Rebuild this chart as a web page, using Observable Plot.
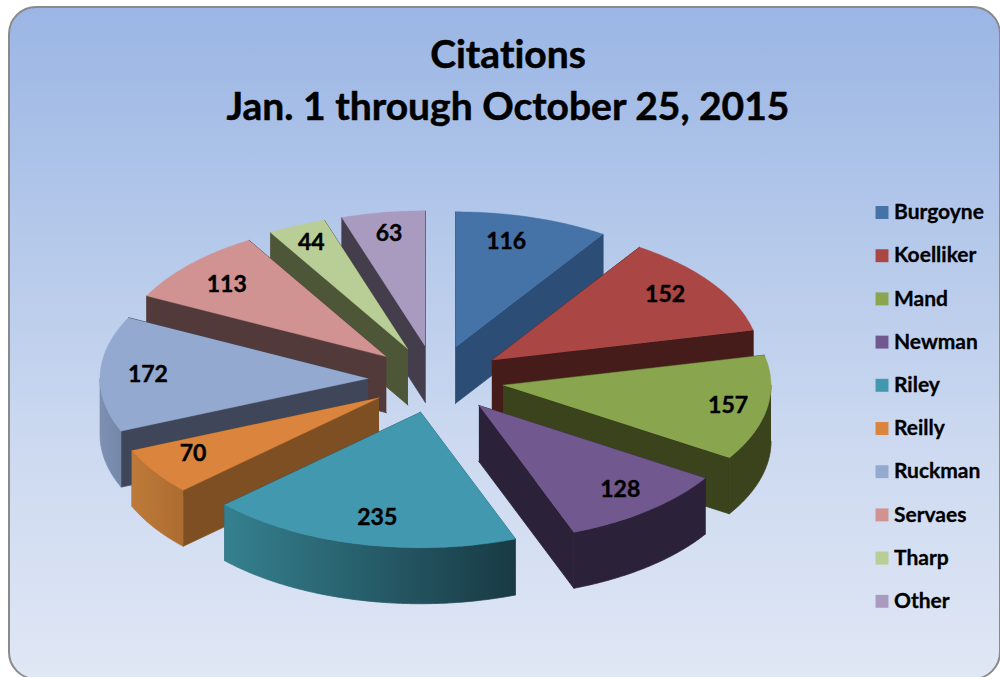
<!DOCTYPE html>
<html><head><meta charset="utf-8">
<script src="https://cdn.jsdelivr.net/npm/d3@7"></script>
<script src="https://cdn.jsdelivr.net/npm/@observablehq/plot@0.6"></script>
<style>
html,body{margin:0;padding:0;width:1000px;height:677px;overflow:hidden;background:#fff}
#frame{position:absolute;left:8px;top:6px;width:993px;height:674px;box-sizing:border-box;border:2px solid #8a8a8a;border-radius:28px;
background:linear-gradient(180deg,#9bb6e5 0%,#b5c9ea 35%,#ccd9f0 65%,#e0e7f5 100%)}
#chart{position:absolute;left:0;top:0}
svg{background:transparent !important}
svg text{font-variant-ligatures:none;font-feature-settings:"liga" 0}
</style></head><body>
<div id="frame"></div><div id="chart"></div>
<script>
const names = ["Burgoyne","Koelliker","Mand","Newman","Riley","Reilly","Ruckman","Servaes","Tharp","Other"];
const values = [116,152,157,128,235,70,172,113,44,63];
const topColors = ["#4572a7","#aa4643","#89a54e","#71588f","#4198af","#db843d","#93a9cf","#d19392","#b9cd96","#a99bc0"];
const edgeColors = ["#2c4d75","#451c1a","#3a431c","#2b2139","#2a6070","#7e4f23","#3f4659","#523a3a","#4d5737","#443e4c"];
const sideColors = ["#2c4d75","#451c1a","#3a431c","#2b2139","url(#rileySide)","url(#reillySide)","url(#ruckmanSide)","#523a3a","#4d5737","#443e4c"];
const drawOrder = [9,8,7,6,5,0,1,2,3,4];
const titleLines = ["Citations","Jan. 1 through October 25, 2015"];
const labelNudgeX = [-12.5,-7.5,8.5,2.5,6.5,-1.5,-0.5,1.5,-5.5,-1.5];
const labelNudgeY = [1,-2,2,-2,-2,-4,0,4,-5,-2];

// projection of the tilted disc
const cx = 435.5, cy = 379, rx = 268, ry = 135.5, explodeX = 68, explodeY = 33.6, depth = 56;
const labelAt = 0.82, fontName = "Lato, 'Open Sans', sans-serif";
const total = d3.sum(values);
let run = 0;
const slices = values.map((v, i) => {
  const a0 = run / total * 2 * Math.PI; run += v;
  const a1 = run / total * 2 * Math.PI, mid = (a0 + a1) / 2;
  return {i, v, a0, a1, mid, ax: cx + explodeX * Math.sin(mid), ay: cy - explodeY * Math.cos(mid)};
});
const at = (s, a, dz = 0) => ({x: s.ax + rx * Math.sin(a), y: s.ay - ry * Math.cos(a) + dz});
const arc = (s, a0, a1, dz = 0) => {
  const n = Math.max(2, Math.ceil((a1 - a0) / 0.01)), out = [];
  for (let k = 0; k <= n; k++) out.push(at(s, a0 + (a1 - a0) * k / n, dz));
  return out;
};
const poly = (points, fill, sw = 0.8) => Plot.line(points, {x: "x", y: "y", fill, stroke: fill, strokeWidth: sw});
const apex = (s, dz = 0) => ({x: s.ax, y: s.ay + dz});

const pieMarks = drawOrder.flatMap(i => {
  const s = slices[i], m = [];
  for (const a of [s.a0, s.a1])
    m.push(poly([apex(s), at(s, a), at(s, a, depth), apex(s, depth)], edgeColors[i]));
  const lo = Math.max(s.a0, Math.PI / 2), hi = Math.min(s.a1, 1.5 * Math.PI);
  if (hi > lo) m.push(poly([...arc(s, lo, hi), ...arc(s, lo, hi, depth).reverse()], sideColors[i]));
  m.push(poly([apex(s), ...arc(s, s.a0, s.a1)], topColors[i], 0.4));
  return m;
});

const labels = slices.map(s => ({
  text: String(s.v),
  x: s.ax + labelAt * rx * Math.sin(s.mid) + labelNudgeX[s.i],
  y: s.ay - labelAt * ry * Math.cos(s.mid) + labelNudgeY[s.i] - 0.5
}));
const legend = names.map((n, i) => ({name: n, color: topColors[i], y: 212 + i * 43.2}));

const defs = () => {
  const svg = d3.create("svg:defs");
  const grads = {rileySide: ["#35808f", "#183a44"], reillySide: ["#bd7a3a", "#ad6c30"], ruckmanSide: ["#7d90b3", "#7488a8"]};
  for (const [id, [c0, c1]] of Object.entries(grads)) {
    const g = svg.append("linearGradient").attr("id", id);
    g.append("stop").attr("offset", "0%").attr("stop-color", c0);
    g.append("stop").attr("offset", "100%").attr("stop-color", c1);
  }
  return svg.node();
};

const plot = Plot.plot({
  width: 1000, height: 677, margin: 0,
  x: {domain: [0, 1000], range: [0, 1000], axis: null},
  y: {domain: [0, 677], range: [0, 677], axis: null},
  marks: [
    defs,
    ...pieMarks,
    Plot.text(labels, {x: "x", y: "y", text: "text", fontFamily: fontName, fontWeight: 700, fontSize: 23, fill: "#000", stroke: "#000", strokeWidth: 0.4}),
    Plot.text(titleLines, {x: () => 507.5, y: (d, i) => 55 + i * 52.5, text: d => d, fontFamily: fontName, fontWeight: 700, fontSize: 39, fill: "#000", stroke: "#000", strokeWidth: 0.5}),
    Plot.dot(legend, {x: () => 881.5, y: "y", symbol: "square", r: 7.3, fill: "color", stroke: "none"}),
    Plot.text(legend, {x: () => 893.5, y: "y", text: "name", textAnchor: "start", fontFamily: fontName, fontWeight: 700, fontSize: 21, fill: "#000", stroke: "#000", strokeWidth: 0.3})
  ]
});
document.getElementById("chart").append(plot);
</script></body></html>
